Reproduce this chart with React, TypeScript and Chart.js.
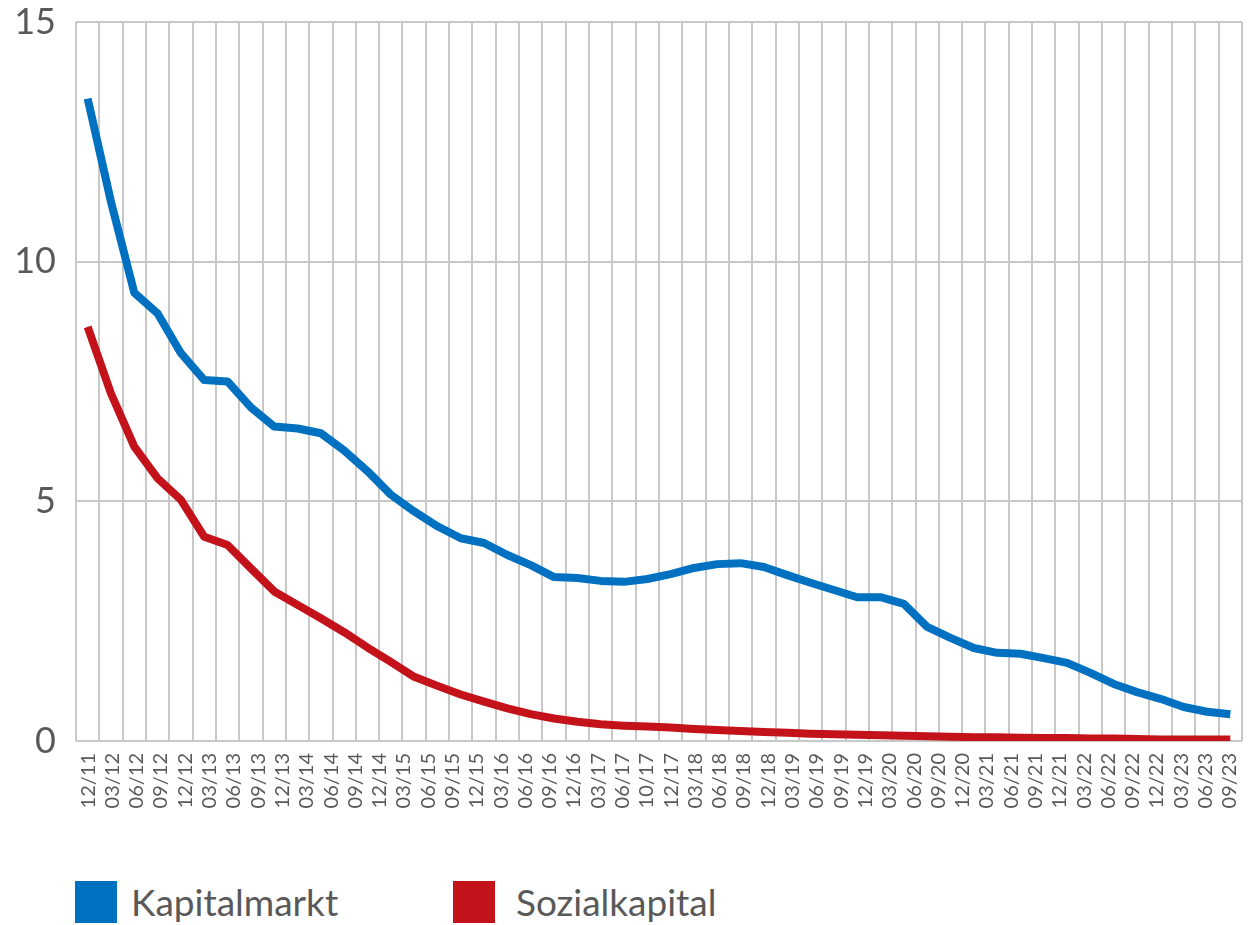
import React, { useEffect, useRef } from "react";
import { Chart, registerables } from "chart.js";

Chart.register(...registerables);

const tickLabels = [
  "12/11", "03/12", "06/12", "09/12", "12/12", "03/13", "06/13", "09/13",
  "12/13", "03/14", "06/14", "09/14", "12/14", "03/15", "06/15", "09/15",
  "12/15", "03/16", "06/16", "09/16", "12/16", "03/17", "06/17", "10/17",
  "12/17", "03/18", "06/18", "09/18", "12/18", "03/19", "06/19", "09/19",
  "12/19", "03/20", "06/20", "09/20", "12/20", "03/21", "06/21", "09/21",
  "12/21", "03/22", "06/22", "09/22", "12/22", "03/23", "06/23", "09/23",
];

const kapitalmarkt = [
  13.4, 11.25, 9.35, 8.92, 8.09, 7.53, 7.5, 6.96, 6.56, 6.52,
  6.42, 6.06, 5.63, 5.14, 4.79, 4.48, 4.23, 4.13, 3.88, 3.67,
  3.42, 3.4, 3.34, 3.32, 3.38, 3.48, 3.61, 3.69, 3.71, 3.63,
  3.46, 3.3, 3.15, 3.0, 3.0, 2.86, 2.38, 2.15, 1.94, 1.84,
  1.82, 1.73, 1.63, 1.42, 1.19, 1.02, 0.88, 0.71, 0.61, 0.56,
];

const sozialkapital = [
  8.64, 7.25, 6.14, 5.48, 5.03, 4.26, 4.09, 3.6, 3.12, 2.84,
  2.56, 2.27, 1.95, 1.65, 1.34, 1.15, 0.97, 0.82, 0.68, 0.56,
  0.47, 0.4, 0.35, 0.32, 0.3, 0.28, 0.25, 0.23, 0.21, 0.19,
  0.17, 0.15, 0.14, 0.13, 0.12, 0.11, 0.1, 0.09, 0.08, 0.08,
  0.07, 0.06, 0.06, 0.05, 0.05, 0.04, 0.03, 0.03, 0.03, 0.03,
];

const seriesNames = ["Kapitalmarkt", "Sozialkapital"];
const seriesColors = ["#0070C0", "#C4121B"];

const GRID = "#c8c8c8";
const TEXT = "#595959";
const FONT = "Lato, 'Open Sans', sans-serif";

const noPad = (s: any) => {
  s.paddingTop = 0;
  s.paddingBottom = 0;
  s.paddingLeft = 0;
  s.paddingRight = 0;
};

export default function App() {
  const ref = useRef<HTMLCanvasElement | null>(null);

  useEffect(() => {
    if (!ref.current) return;
    const toPts = (arr: number[]) => arr.map((v, i) => ({ x: i, y: v }));
    const mk = (idx: number, arr: number[]) => ({
      label: seriesNames[idx],
      data: toPts(arr),
      xAxisID: "xd",
      yAxisID: "y",
      borderColor: seriesColors[idx],
      backgroundColor: seriesColors[idx],
      borderWidth: 8,
      pointRadius: 0,
      tension: 0,
      borderJoinStyle: "round" as const,
      fill: false,
    });
    const chart = new Chart(ref.current, {
      type: "line",
      data: {
        labels: tickLabels,
        datasets: [mk(0, kapitalmarkt), mk(1, sozialkapital)],
      },
      options: {
        responsive: false,
        animation: false,
        layout: { padding: { top: 22, right: 6, left: 0, bottom: 0 } },
        plugins: { legend: { display: false }, tooltip: { enabled: false } },
        scales: {
          x: {
            type: "category",
            position: "bottom",
            offset: true,
            grid: { display: false, drawTicks: false },
            border: { display: false },
            ticks: {
              autoSkip: false,
              minRotation: 90,
              maxRotation: 90,
              padding: 12,
              color: TEXT,
              font: { family: FONT, size: 20 },
            },
            afterFit: (s: any) => {
              s.height = 109;
              noPad(s);
            },
          },
          xd: {
            type: "linear",
            position: "bottom",
            min: -0.5,
            max: 49.5,
            ticks: { display: false, stepSize: 1 },
            grid: { color: GRID, lineWidth: 2, drawTicks: false },
            border: { display: false },
            afterFit: (s: any) => {
              s.height = 0;
              noPad(s);
            },
          },
          y: {
            type: "linear",
            min: 0,
            max: 15,
            ticks: {
              stepSize: 5,
              padding: 20,
              color: TEXT,
              font: { family: FONT, size: 36 },
            },
            grid: { color: GRID, lineWidth: 2, drawTicks: false },
            border: { display: false },
            afterFit: (s: any) => {
              s.width = 76;
              noPad(s);
            },
          },
        },
      },
    });
    return () => chart.destroy();
  }, []);

  const legendItems = [
    { name: seriesNames[0], color: seriesColors[0], box: 75, text: 131 },
    { name: seriesNames[1], color: seriesColors[1], box: 453, text: 516 },
  ];

  return (
    <div style={{ position: "absolute", left: 0, top: 0, width: 1248, height: 925, background: "#fff" }}>
      <canvas ref={ref} width={1248} height={850} style={{ display: "block" }} />
      {legendItems.map((it) => (
        <React.Fragment key={it.name}>
          <div
            style={{
              position: "absolute",
              left: it.box,
              top: 881,
              width: 42,
              height: 42,
              background: it.color,
            }}
          />
          <div
            style={{
              position: "absolute",
              left: it.text,
              top: 880,
              height: 44,
              lineHeight: "44px",
              fontFamily: FONT,
              fontSize: 37,
              color: TEXT,
              whiteSpace: "nowrap",
            }}
          >
            {it.name}
          </div>
        </React.Fragment>
      ))}
    </div>
  );
}
